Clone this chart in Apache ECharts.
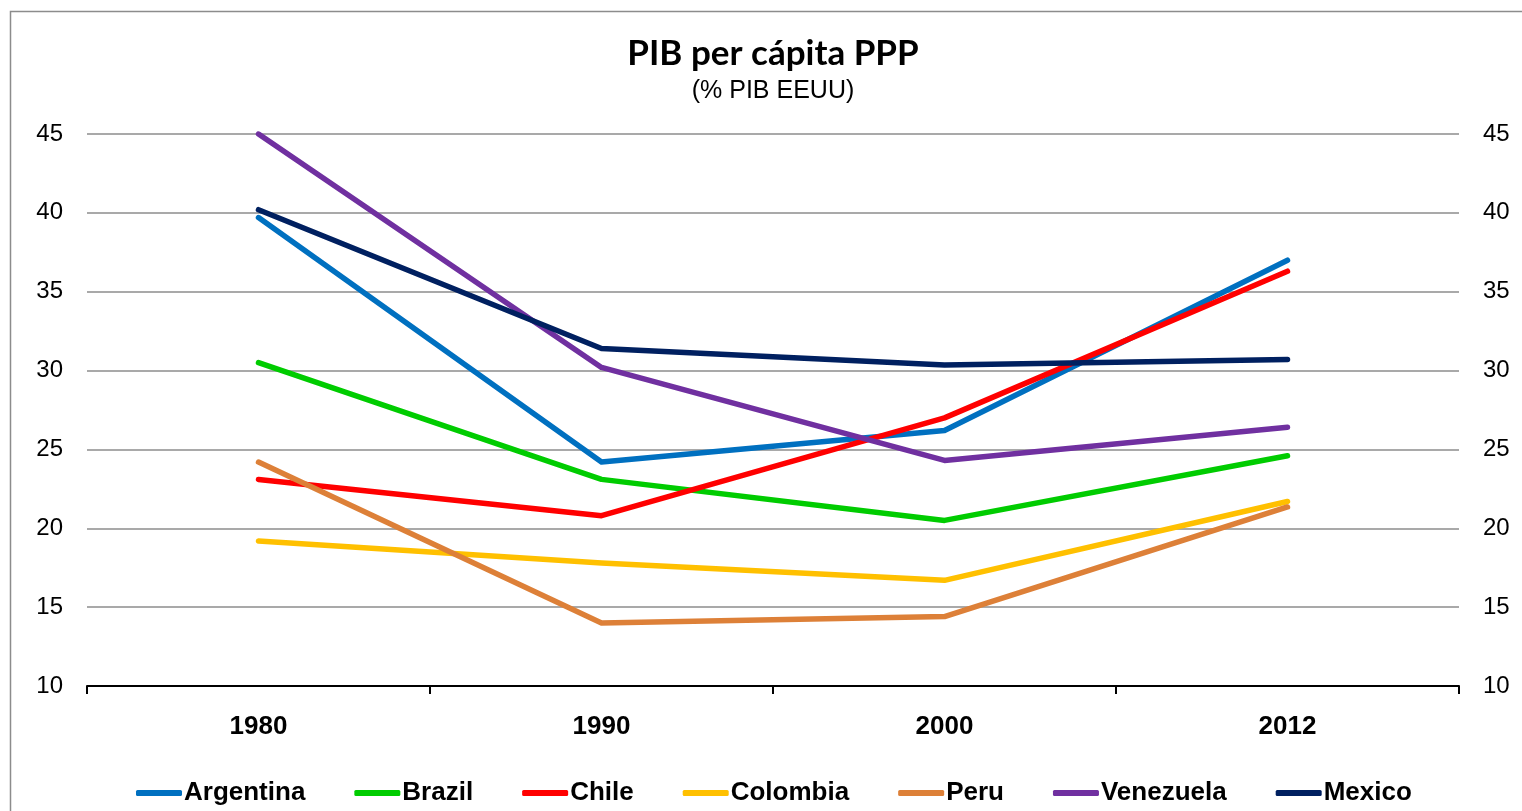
<!DOCTYPE html>
<html>
<head>
<meta charset="utf-8">
<script src="https://cdn.jsdelivr.net/npm/echarts@6/dist/echarts.min.js"></script>
<style>
  html, body { margin: 0; padding: 0; background: #fff; }
  #chart { width: 1522px; height: 811px; }
</style>
</head>
<body>
<div id="chart"></div>
<script>
// years on the x axis
var years = ['1980', '1990', '2000', '2012'];

// GDP per capita PPP, % of US
var argentina = [39.7, 24.2, 26.2, 37.0];
var brazil = [30.5, 23.1, 20.5, 24.6];
var chile = [23.1, 20.8, 27.0, 36.3];
var colombia = [19.2, 17.8, 16.7, 21.7];
var peru = [24.2, 14.0, 14.4, 21.35];
var venezuela = [45.0, 30.2, 24.3, 26.4];
var mexico = [40.2, 31.4, 30.35, 30.7];

var seriesList = [
  { name: 'Argentina', data: argentina, color: '#0070C0' },
  { name: 'Brazil', data: brazil, color: '#00CC00' },
  { name: 'Chile', data: chile, color: '#FF0000' },
  { name: 'Colombia', data: colombia, color: '#FFC000' },
  { name: 'Peru', data: peru, color: '#DD8038' },
  { name: 'Venezuela', data: venezuela, color: '#7030A0' },
  { name: 'Mexico', data: mexico, color: '#002060' }
];

var chart = echarts.init(document.getElementById('chart'));

var yAxisBase = {
  type: 'value',
  min: 10,
  max: 45,
  interval: 5,
  axisLine: { show: false },
  axisTick: { show: false },
  axisLabel: {
    fontFamily: 'Liberation Sans, Arial',
    fontSize: 24,
    color: '#000',
    margin: 24
  }
};

chart.setOption({
  animation: false,
  graphic: [{
    type: 'rect',
    shape: { x: 10.5, y: 11.5, width: 1540, height: 830 },
    style: { fill: 'none', stroke: '#8c8c8c', lineWidth: 1.5 },
    silent: true
  }],
  title: {
    text: 'PIB per cápita PPP',
    subtext: '(% PIB EEUU)',
    left: 768,
    textAlign: 'center',
    top: 31,
    itemGap: 8,
    textStyle: {
      fontFamily: 'Lato, Open Sans',
      fontWeight: 'bold',
      fontSize: 35,
      color: '#000'
    },
    subtextStyle: {
      fontFamily: 'Liberation Sans, Arial',
      fontSize: 25,
      color: '#000'
    }
  },
  legend: {
    bottom: 0,
    left: 131,
    itemWidth: 46,
    itemHeight: 6,
    itemGap: 49,
    icon: 'roundRect',
    textStyle: {
      fontFamily: 'Liberation Sans, Arial',
      fontWeight: 'bold',
      fontSize: 26,
      color: '#000',
      padding: [0, 0, 0, -3]
    },
    data: seriesList.map(function (s) { return s.name; })
  },
  grid: {
    left: 87,
    right: 63,
    top: 134,
    bottom: 125
  },
  xAxis: {
    type: 'category',
    data: years,
    boundaryGap: true,
    axisLine: { show: true, lineStyle: { color: '#000', width: 2 } },
    axisTick: { show: true, alignWithLabel: false, interval: 0, length: 8, lineStyle: { color: '#000', width: 2 } },
    axisLabel: {
      fontFamily: 'Liberation Sans, Arial',
      fontWeight: 'bold',
      fontSize: 26,
      color: '#000',
      margin: 28
    }
  },
  yAxis: [
    Object.assign({}, yAxisBase, {
      position: 'left',
      splitLine: { lineStyle: { color: '#8c8c8c', width: 1.5 } }
    }),
    Object.assign({}, yAxisBase, {
      position: 'right',
      splitLine: { show: false }
    })
  ],
  series: seriesList.map(function (s) {
    return {
      name: s.name,
      type: 'line',
      data: s.data,
      symbol: 'none',
      color: s.color,
      lineStyle: { width: 5.5, color: s.color, cap: 'round', join: 'round' }
    };
  })
});
</script>
</body>
</html>
